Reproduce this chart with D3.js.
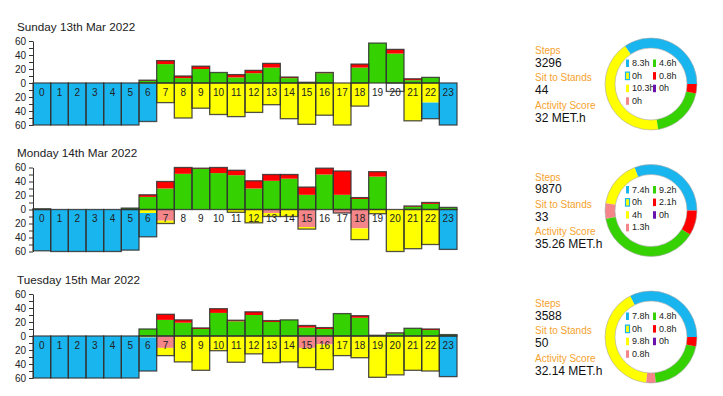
<!DOCTYPE html>
<html>
<head>
<meta charset="utf-8">
<script src="https://cdn.jsdelivr.net/npm/d3@7"></script>
<style>
  body { margin: 0; background: #fff; font-family: "Liberation Sans", Arial, sans-serif; }
</style>
</head>
<body>
<div id="viz"></div>
<script>
const width = 723;
const height = 396;

// hour categories
const hourLabels = ['0','1','2','3','4','5','6','7','8','9','10','11','12','13','14','15','16','17','18','19','20','21','22','23'];

const dayTitles = ['Sunday 13th Mar 2022', 'Monday 14th Mar 2022', 'Tuesday 15th Mar 2022'];
const steps = ['3296', '9870', '3588'];
const sitToStands = ['44', '33', '50'];
const activityScores = ['32 MET.h', '35.26 MET.h', '32.14 MET.h'];

// minutes per hour, upward (active)
const sunGreen = [0,0,0,0,0,0,3,27,7,20,15,8,14,22,7,1,14,0,22,57,42,4,8,0];
const sunRed   = [0,0,0,0,0,0,1,5,3,4,0,4,4,6,1.5,0,1,0,5,0,6,2,0,0];
const monGreen = [1,0,0,0,0,2,18,30,51,58,52,49,30,41,44,21,50,21,15,47,0,4,8,3];
const monRed   = [0,0,0,0,0,0,3,10,9,1,8,7,11,9,6,11,9,34,2,7,0,1,2,0];
const tueGreen = [0,0,0,0,0,0,10,23,19,10,33,21,30,20,23,12,10,32,26,1,4,11,8.5,2];
const tueRed   = [0,0,0,0,0,0,0,8,4,1.5,6,1.5,4.5,2,0,3,2,0,3,0,0.5,0,1.5,0];

// minutes per hour, downward (sedentary)
const sunPink   = [0,0,0,0,0,0,0,0,0,0,0,0,0,0,0,0,0,0,0,0,0,0,0,0];
const sunYellow = [0,0,0,0,0,0,1,28,50,36,45,48,42,31,51,59,46,60,33,0,0,54,28,0];
const sunBlue   = [60,60,60,60,60,60,54,0,0,0,0,0,0,0,0,0,0,0,0,0,0,0,23,60];
const sunOther  = [0,0,0,0,0,0,0,0,0,0,0,0,0,0,0,0,0,0,0,0,12,0,0,0];
const monPink   = [0,0,0,0,0,0,0,16,0,0,0,0,0,5,0,25,0,5,27,0,0,0,0,0];
const monYellow = [0,0,0,0,0,0,5,4,0,0,0,4,19,5,10,3,0,0,16,6,60,56,50,0];
const monBlue   = [59,60,60,60,60,58,34,0,0,0,0,0,0,0,0,0,0,0,0,0,0,0,0,57];
const monOther  = [0,0,0,0,0,0,0,0,0,0,0,0,0,0,0,0,0,0,0,0,0,0,0,0];
const tuePink   = [0,0,0,0,0,0,0,17,0,0,0,0,0,0,0,17,12,0,0,0,0,0,0,0];
const tueYellow = [0,0,0,0,0,0,2,11,37,49,21,37.5,25.5,38,37,28,36,28,31,59,55.5,49,50,0];
const tueBlue   = [60,60,60,60,60,60,48,0,0,0,0,0,0,0,0,0,0,0,0,0,0,0,0,58];
const tueOther  = [0,0,0,0,0,0,0,0,0,0,0,0,0,0,0,0,0,0,0,0,0,0,0,0];

// donut totals (hours) per day
const lyingHours   = [8.3, 7.4, 7.8];
const stsHours     = [0, 0, 0];
const sittingHours = [10.3, 4, 9.8];
const pinkHours    = [0, 1.3, 0.8];
const greenHours   = [4.6, 9.2, 4.8];
const redHours     = [0.8, 2.1, 0.8];
const purpleHours  = [0, 0, 0];

const yTicks = [-60,-50,-40,-30,-20,-10,0,10,20,30,40,50,60];

const colors = {
    green: '#36d100',
    red: '#ff0000',
    pink: '#f4868a',
    yellow: '#ffff00',
    blue: '#19b5ef',
    other: '#ffffff',
    purple: '#6a12b0',
    sts: '#ffff00'
};

const upKeys = ['green', 'red'];
const downKeys = ['pink', 'yellow', 'blue', 'other'];

const dayData = [
    {green: sunGreen, red: sunRed, pink: sunPink, yellow: sunYellow, blue: sunBlue, other: sunOther},
    {green: monGreen, red: monRed, pink: monPink, yellow: monYellow, blue: monBlue, other: monOther},
    {green: tueGreen, red: tueRed, pink: tuePink, yellow: tueYellow, blue: tueBlue, other: tueOther}
];

const chartLeft = 33;
const chartRight = 457;
const chartTops = [41, 167.5, 294];
const chartH = 84;

const svg = d3.select('#viz')
    .append('svg')
        .attr('width', width)
        .attr('height', height)
        .attr('viewBox', [0, 0, width, height]);

const x = d3.scaleBand()
    .domain(hourLabels)
    .range([chartLeft, chartRight])
    .padding(0);

dayData.forEach((day, i) => {
    const top = chartTops[i];
    const y = d3.scaleLinear()
        .domain([-60, 60])
        .range([top + chartH, top]);

    const rows = hourLabels.map((h, j) => {
        const r = {hour: h};
        upKeys.concat(downKeys).forEach(k => r[k] = day[k][j]);
        return r;
    });

    const g = svg.append('g');

    // title
    g.append('text')
        .attr('x', 17)
        .attr('y', top - 10.5)
        .attr('font-size', 11.7)
        .attr('fill', '#222')
        .text(dayTitles[i]);

    // upward stack
    const upStack = d3.stack().keys(upKeys)(rows);
    g.append('g').selectAll('g')
        .data(upStack)
        .join('g')
            .attr('fill', d => colors[d.key])
        .selectAll('rect')
        .data(d => d)
        .join('rect')
            .attr('x', d => x(d.data.hour))
            .attr('width', x.bandwidth())
            .attr('y', d => y(d[1]))
            .attr('height', d => y(d[0]) - y(d[1]));

    // downward stack
    const downStack = d3.stack().keys(downKeys)(rows);
    g.append('g').selectAll('g')
        .data(downStack)
        .join('g')
            .attr('fill', d => colors[d.key])
        .selectAll('rect')
        .data(d => d)
        .join('rect')
            .attr('x', d => x(d.data.hour))
            .attr('width', x.bandwidth())
            .attr('y', d => y(-d[0]))
            .attr('height', d => y(-d[1]) - y(-d[0]));

    // outlines around each stack
    const upTotal = d => upKeys.reduce((s, k) => s + d[k], 0);
    const downTotal = d => downKeys.reduce((s, k) => s + d[k], 0);

    g.append('g').selectAll('rect')
        .data(rows.filter(d => upTotal(d) > 0))
        .join('rect')
            .attr('x', d => x(d.hour))
            .attr('width', x.bandwidth())
            .attr('y', d => y(upTotal(d)))
            .attr('height', d => y(0) - y(upTotal(d)))
            .attr('fill', 'none')
            .attr('stroke', '#333')
            .attr('stroke-opacity', 0.85)
            .attr('stroke-width', 1.3);

    g.append('g').selectAll('rect')
        .data(rows.filter(d => downTotal(d) > 0))
        .join('rect')
            .attr('x', d => x(d.hour))
            .attr('width', x.bandwidth())
            .attr('y', y(0))
            .attr('height', d => y(-downTotal(d)) - y(0))
            .attr('fill', 'none')
            .attr('stroke', '#333')
            .attr('stroke-opacity', 0.85)
            .attr('stroke-width', 1.3);

    // hour labels
    g.append('g').selectAll('text')
        .data(hourLabels)
        .join('text')
            .attr('x', d => x(d) + x.bandwidth() / 2)
            .attr('y', y(0) + 12.5)
            .attr('text-anchor', 'middle')
            .attr('font-size', 10)
            .attr('fill', '#222')
            .text(d => d);

    // y axis
    const axis = g.append('g')
        .attr('transform', `translate(${chartLeft}, 0)`)
        .call(d3.axisLeft(y)
            .tickValues(yTicks)
            .tickSize(4)
            .tickSizeOuter(0)
            .tickPadding(3)
            .tickFormat(d => d % 20 === 0 ? Math.abs(d) : ''));
    axis.select('.domain').attr('stroke', '#333');
    axis.selectAll('.tick line').attr('stroke', '#333');
    axis.selectAll('.tick text')
        .attr('font-family', '"Liberation Sans", Arial, sans-serif')
        .attr('font-size', 10)
        .attr('fill', '#222');

    // side stats
    const zero = y(0);
    const stats = [
        ['Steps', steps[i]],
        ['Sit to Stands', sitToStands[i]],
        ['Activity Score', activityScores[i]]
    ];
    stats.forEach((s, k) => {
        g.append('text')
            .attr('x', 535)
            .attr('y', zero - 29 + k * 27.3)
            .attr('font-size', 10)
            .attr('fill', '#f5a22e')
            .text(s[0]);
        g.append('text')
            .attr('x', 535)
            .attr('y', zero - 16.5 + k * 27.6)
            .attr('font-size', 12)
            .attr('fill', '#111')
            .text(s[1]);
    });

    // donut
    const cx = 651;
    const cy = zero + 1;
    const outerR = 46;
    const innerR = 36;
    const donutKeys = ['blue', 'sts', 'yellow', 'pink', 'green', 'red', 'purple'];
    const donutVals = [lyingHours[i], stsHours[i], sittingHours[i], pinkHours[i], greenHours[i], redHours[i], purpleHours[i]];

    const pie = d3.pie()
        .sort(null)
        .value(d => d.v)
        .startAngle(Math.PI / 2)
        .endAngle(Math.PI / 2 - 2 * Math.PI);
    const arc = d3.arc().innerRadius(innerR).outerRadius(outerR);

    const dg = g.append('g').attr('transform', `translate(${cx}, ${cy})`);
    dg.selectAll('path')
        .data(pie(donutKeys.map((k, j) => ({k: k, v: donutVals[j]}))))
        .join('path')
            .attr('d', arc)
            .attr('fill', d => colors[d.data.k]);
    dg.append('circle').attr('r', outerR).attr('fill', 'none').attr('stroke', '#aaa').attr('stroke-width', 0.6);
    dg.append('circle').attr('r', innerR).attr('fill', 'none').attr('stroke', '#aaa').attr('stroke-width', 0.6);

    // legend inside donut
    const legendItems = [
        {k: 'blue', col: 0, row: 0, v: lyingHours[i]},
        {k: 'sts', col: 0, row: 1, v: stsHours[i]},
        {k: 'yellow', col: 0, row: 2, v: sittingHours[i]},
        {k: 'pink', col: 0, row: 3, v: pinkHours[i]},
        {k: 'green', col: 1, row: 0, v: greenHours[i]},
        {k: 'red', col: 1, row: 1, v: redHours[i]},
        {k: 'purple', col: 1, row: 2, v: purpleHours[i]}
    ];
    const lg = dg.selectAll('g.leg')
        .data(legendItems)
        .join('g')
            .attr('class', 'leg')
            .attr('transform', d => `translate(${d.col === 0 ? -25 : 2}, ${-21 + d.row * 12.6})`);
    lg.append('rect')
        .attr('x', d => d.k === 'sts' ? -0.5 : 0)
        .attr('y', -3.5)
        .attr('width', d => d.k === 'sts' ? 4 : 3)
        .attr('height', 7.5)
        .attr('fill', d => colors[d.k])
        .attr('stroke', d => d.k === 'sts' ? colors.blue : 'none')
        .attr('stroke-width', 1.2);
    lg.append('text')
        .attr('x', 6)
        .attr('y', 3)
        .attr('font-size', 9)
        .attr('fill', '#222')
        .text(d => d.v + 'h');
});
</script>
</body>
</html>
